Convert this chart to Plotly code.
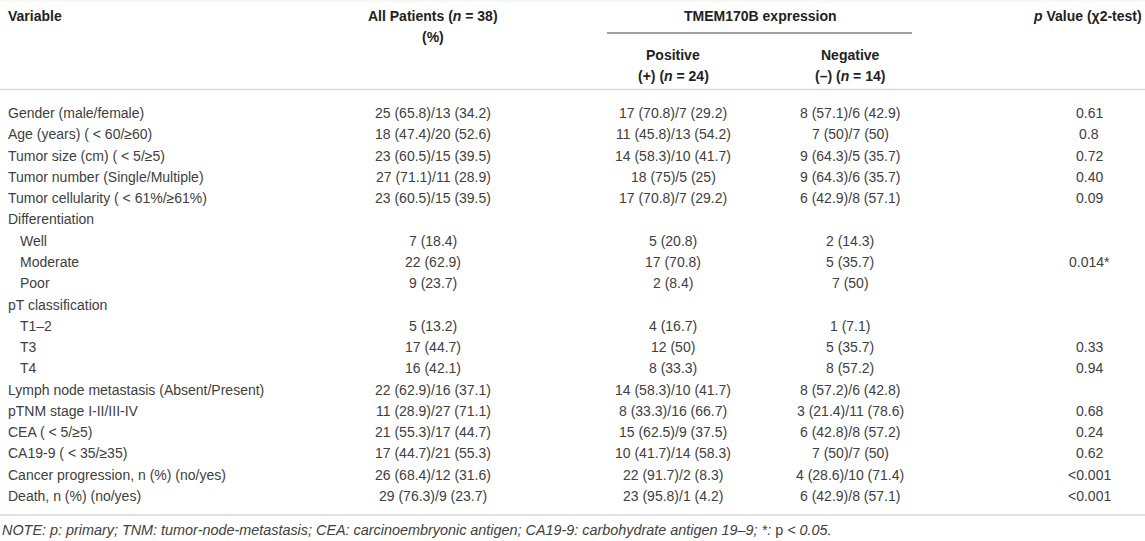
import plotly.graph_objects as go

# table contents
variables = [
    "Gender (male/female)",
    "Age (years) ( < 60/≥60)",
    "Tumor size (cm) ( < 5/≥5)",
    "Tumor number (Single/Multiple)",
    "Tumor cellularity ( < 61%/≥61%)",
    "Differentiation",
    "Well",
    "Moderate",
    "Poor",
    "pT classification",
    "T1–2",
    "T3",
    "T4",
    "Lymph node metastasis (Absent/Present)",
    "pTNM stage I-II/III-IV",
    "CEA ( < 5/≥5)",
    "CA19-9 ( < 35/≥35)",
    "Cancer progression, n (%) (no/yes)",
    "Death, n (%) (no/yes)",
]
indented = [False, False, False, False, False, False, True, True, True,
            False, True, True, True, False, False, False, False, False, False]
all_patients = [
    "25 (65.8)/13 (34.2)", "18 (47.4)/20 (52.6)", "23 (60.5)/15 (39.5)",
    "27 (71.1)/11 (28.9)", "23 (60.5)/15 (39.5)", "", "7 (18.4)", "22 (62.9)",
    "9 (23.7)", "", "5 (13.2)", "17 (44.7)", "16 (42.1)", "22 (62.9)/16 (37.1)",
    "11 (28.9)/27 (71.1)", "21 (55.3)/17 (44.7)", "17 (44.7)/21 (55.3)",
    "26 (68.4)/12 (31.6)", "29 (76.3)/9 (23.7)",
]
positive = [
    "17 (70.8)/7 (29.2)", "11 (45.8)/13 (54.2)", "14 (58.3)/10 (41.7)",
    "18 (75)/5 (25)", "17 (70.8)/7 (29.2)", "", "5 (20.8)", "17 (70.8)",
    "2 (8.4)", "", "4 (16.7)", "12 (50)", "8 (33.3)", "14 (58.3)/10 (41.7)",
    "8 (33.3)/16 (66.7)", "15 (62.5)/9 (37.5)", "10 (41.7)/14 (58.3)",
    "22 (91.7)/2 (8.3)", "23 (95.8)/1 (4.2)",
]
negative = [
    "8 (57.1)/6 (42.9)", "7 (50)/7 (50)", "9 (64.3)/5 (35.7)",
    "9 (64.3)/6 (35.7)", "6 (42.9)/8 (57.1)", "", "2 (14.3)", "5 (35.7)",
    "7 (50)", "", "1 (7.1)", "5 (35.7)", "8 (57.2)", "8 (57.2)/6 (42.8)",
    "3 (21.4)/11 (78.6)", "6 (42.8)/8 (57.2)", "7 (50)/7 (50)",
    "4 (28.6)/10 (71.4)", "6 (42.9)/8 (57.1)",
]
p_values = [
    "0.61", "0.8", "0.72", "0.40", "0.09", "", "", "0.014*", "", "", "",
    "0.33", "0.94", "", "0.68", "0.24", "0.62", "<0.001", "<0.001",
]
note = ("<i>NOTE: p: primary; TNM: tumor-node-metastasis; CEA: carcinoembryonic antigen; "
        "CA19-9: carbohydrate antigen 19–9; *: </i>p<i> &lt; 0.05.</i>")

W, H = 1145, 541
FONT = "Liberation Sans, Arial, Helvetica, sans-serif"
body = dict(family=FONT, size=14, color="#404040")
head = dict(family=FONT, size=14, color="#222222")

col_x = {"all": 433, "pos": 673, "neg": 850, "p": 1089}
row0, row_h = 113, 21.28

fig = go.Figure()
ann = []

def add(x, y, text, font, xanchor="center"):
    ann.append(dict(x=x, y=y, text=text, showarrow=False, font=font,
                    xanchor=xanchor, yanchor="middle", xref="x", yref="y"))

# header
add(6, 16, "<b>Variable</b>", head, "left")
add(col_x["all"], 16, "<b>All Patients (<i>n</i> = 38)</b>", head)
add(col_x["all"], 37, "<b>(%)</b>", head)
add(760, 16, "<b>TMEM170B expression</b>", head)
add(col_x["pos"], 55, "<b>Positive</b>", head)
add(col_x["pos"], 76, "<b>(+) (<i>n</i> = 24)</b>", head)
add(col_x["neg"], 55, "<b>Negative</b>", head)
add(col_x["neg"], 76, "<b>(–) (<i>n</i> = 14)</b>", head)
add(1144, 16, "<b><i>p</i> Value (χ2-test)</b>", head, "right")

for i, v in enumerate(variables):
    y = row0 + i * row_h
    add(18 if indented[i] else 6, y, v, body, "left")
    add(col_x["all"], y, all_patients[i], body)
    add(col_x["pos"], y, positive[i], body)
    add(col_x["neg"], y, negative[i], body)
    add(col_x["p"], y, p_values[i], body)

add(0, 530, note, dict(family=FONT, size=14.4, color="#404040"), "left")

line_col = "#d9d9d9"
shapes = [
    dict(type="line", x0=0, x1=W, y0=1, y1=1, line=dict(color="#eeeeee", width=1)),
    dict(type="line", x0=0, x1=W, y0=89.5, y1=89.5, line=dict(color=line_col, width=1.5)),
    dict(type="line", x0=607, x1=912, y0=33, y1=33, line=dict(color="#444444", width=1)),
    dict(type="line", x0=0, x1=W, y0=515, y1=515, line=dict(color=line_col, width=1.5)),
]

fig.update_layout(
    width=W, height=H,
    margin=dict(l=0, r=0, t=0, b=0),
    paper_bgcolor="white", plot_bgcolor="white",
    annotations=ann, shapes=shapes, showlegend=False,
    xaxis=dict(range=[0, W], visible=False, fixedrange=True),
    yaxis=dict(range=[H, 0], visible=False, fixedrange=True),
)

# page body has a default 8px margin; drop it so the table sits at the corner
fig.write_html("out.html", config={"displayModeBar": False},
               post_script="document.body.style.margin='0';")
